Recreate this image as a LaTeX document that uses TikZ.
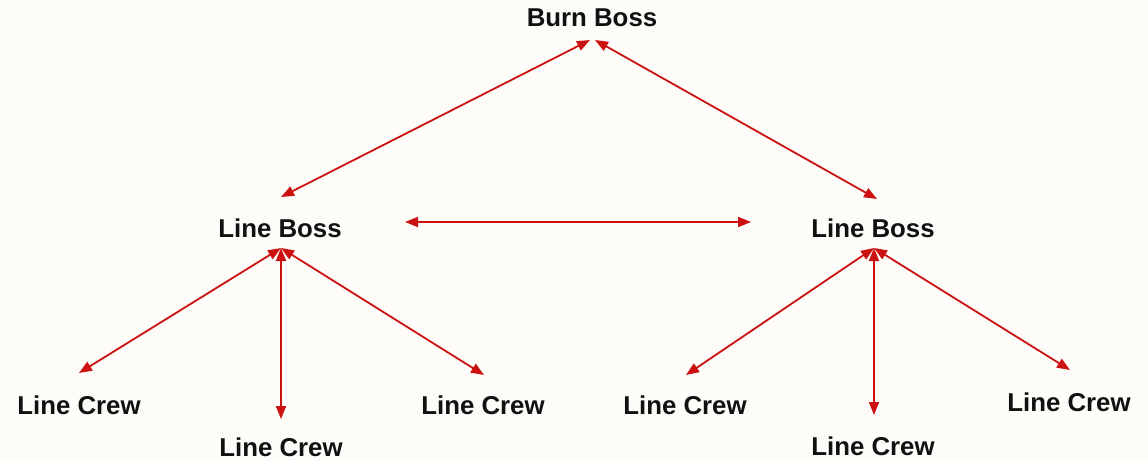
\documentclass[tikz,border=0pt]{standalone}
\usepackage{fontspec}
\setmainfont{Liberation Sans}
\usetikzlibrary{arrows.meta}
\definecolor{bg}{HTML}{FDFCF9}
\definecolor{linkred}{HTML}{CC1111}
\definecolor{ink}{HTML}{111111}
\begin{document}
\begin{tikzpicture}[x=1pt,y=-1pt,
  lbl/.style={font=\fontsize{25.8}{28}\selectfont\bfseries, text=ink, inner sep=0pt},
  link/.style={draw=linkred, line width=1.8pt, {Triangle[length=13pt,width=10pt]}-{Triangle[length=13pt,width=10pt]}}]
\fill[bg] (0,0) rectangle (1148,461);
\useasboundingbox (0,0) rectangle (1148,461);
% nodes
\node[lbl] (burn) at (592,18) {Burn Boss};
\node[lbl] (lbL) at (280,228) {Line Boss};
\node[lbl] (lbR) at (873,228) {Line Boss};
\node[lbl] (c1) at (79,405) {Line Crew};
\node[lbl] (c2) at (281,447) {Line Crew};
\node[lbl] (c3) at (483,405) {Line Crew};
\node[lbl] (c4) at (685,405) {Line Crew};
\node[lbl] (c5) at (873,446) {Line Crew};
\node[lbl] (c6) at (1069,402) {Line Crew};
% connector endpoints
\coordinate (burnL) at (590,40);
\coordinate (burnR) at (595,40);
\coordinate (lbLtop) at (281,197);
\coordinate (lbRtop) at (877,199);
\coordinate (lbLright) at (405,222);
\coordinate (lbRleft) at (751,222);
\coordinate (hubL) at (281,248);
\coordinate (hubR) at (874,248);
\coordinate (c1top) at (79,373);
\coordinate (c2top) at (281,419);
\coordinate (c3top) at (484,375);
\coordinate (c4top) at (686,375);
\coordinate (c5top) at (874,415);
\coordinate (c6top) at (1070,370);
% connectors
\draw[link] (lbLtop) -- (burnL);
\draw[link] (lbRtop) -- (burnR);
\draw[link] (lbLright) -- (lbRleft);
\draw[link] (c1top) -- (hubL);
\draw[link] (c2top) -- (hubL);
\draw[link] (c3top) -- (hubL);
\draw[link] (c4top) -- (hubR);
\draw[link] (c5top) -- (hubR);
\draw[link] (c6top) -- (hubR);
\end{tikzpicture}
\end{document}
